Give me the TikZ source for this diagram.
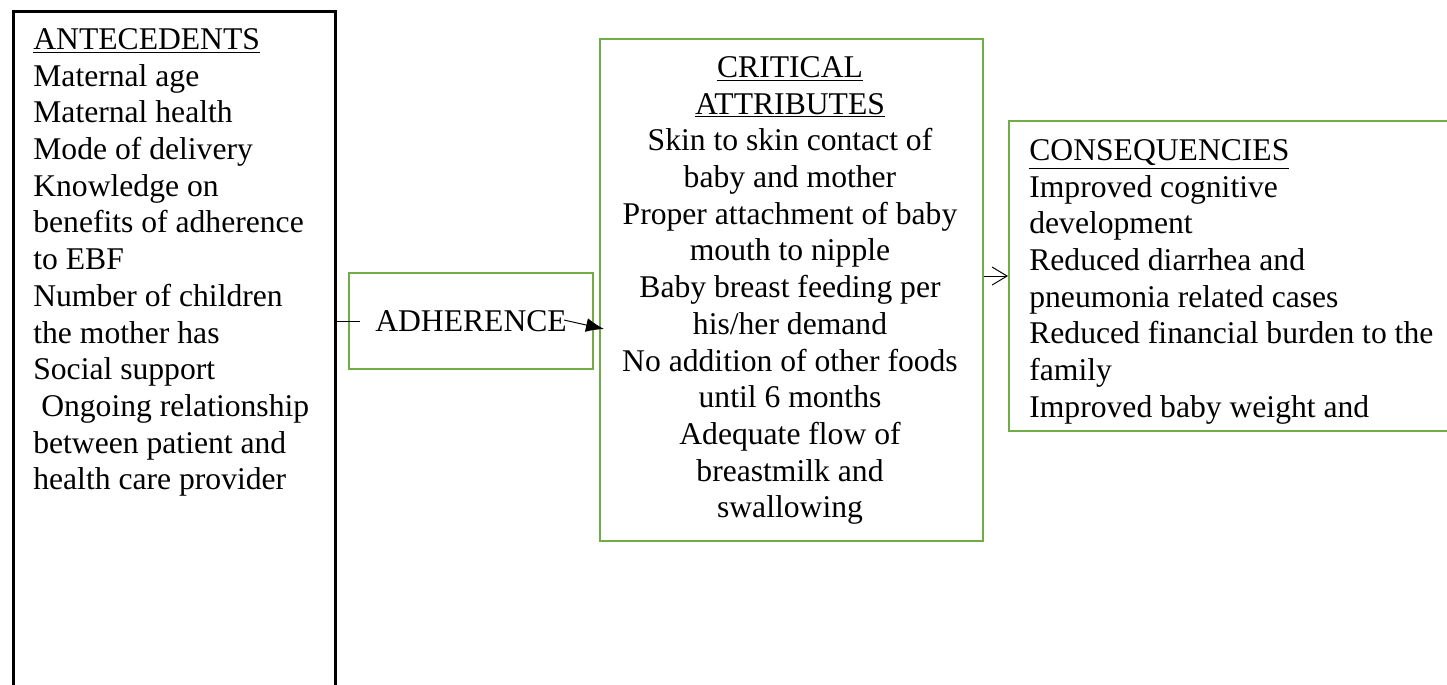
\documentclass[tikz,border=0pt]{standalone}
\usepackage{fontspec}
\setmainfont{Liberation Serif}
\usetikzlibrary{arrows.meta,calc}
\definecolor{boxgreen}{RGB}{112,173,71}
\tikzset{
  body/.style={font=\fontsize{18}{20.9}\selectfont, inner sep=0pt},
  antebox/.style={draw=black, line width=1.6pt, anchor=north west, inner sep=0pt,
    minimum width=6.44cm, minimum height=14cm},
  greenbox/.style={draw=boxgreen, line width=1.2pt, anchor=north west, inner sep=0pt},
  link/.style={line width=0.55pt},
}

\begin{document}
\begin{tikzpicture}[x=0.02cm, y=-0.02cm]
  \useasboundingbox (0,0) rectangle (1447,684);
  \clip (0,0) rectangle (1447,684);

  % boxes
  \node[antebox] (ante) at (12,10) {};
  \node[greenbox, body, minimum width=4.88cm, minimum height=1.92cm] (adh) at (348,272) {ADHERENCE};
  \node[greenbox, minimum width=7.66cm, minimum height=10.04cm] (crit) at (599,38) {};
  \node[greenbox, minimum width=9.2cm, minimum height=6.2cm] (cons) at (1008,120) {};

  % texts
  \node[body, anchor=north west, align=left] (antetext) at (33,28) {\underline{ANTECEDENTS}\\
    Maternal age\\ Maternal health\\ Mode of delivery\\ Knowledge on\\
    benefits of adherence\\ to EBF\\ Number of children\\ the mother has\\
    Social support\\ \hspace*{0.25em}Ongoing relationship\\ between patient and\\
    health care provider};
  \node[body, anchor=north, align=center] (crittext) at (790,56) {\underline{CRITICAL}\\
    \underline{ATTRIBUTES}\\ Skin to skin contact of\\ baby and mother\\
    Proper attachment of baby\\ mouth to nipple\\ Baby breast feeding per\\
    his/her demand\\ No addition of other foods\\ until 6 months\\
    Adequate flow of\\ breastmilk and\\ swallowing};
  \node[body, anchor=north west, align=left] (constext) at (1029,139) {\underline{CONSEQUENCIES}\\
    Improved cognitive\\ development\\ Reduced diarrhea and\\
    pneumonia related cases\\ Reduced financial burden to the\\ family\\
    Improved baby weight and};

  % links
  \draw[link] (ante.east |- adh.west) -- ([xshift=0.24cm]adh.west);
  \draw[link, -{Latex[length=0.36cm,width=0.28cm]}] ($(adh.east)+(-30,-1)$) -- ($(crit.west)+(5,39)$);
  \draw[link, -{Straight Barb[length=0.3cm,width=0.36cm]}] (crit.east |- cons.west) -- (cons.west);
\end{tikzpicture}
\end{document}
